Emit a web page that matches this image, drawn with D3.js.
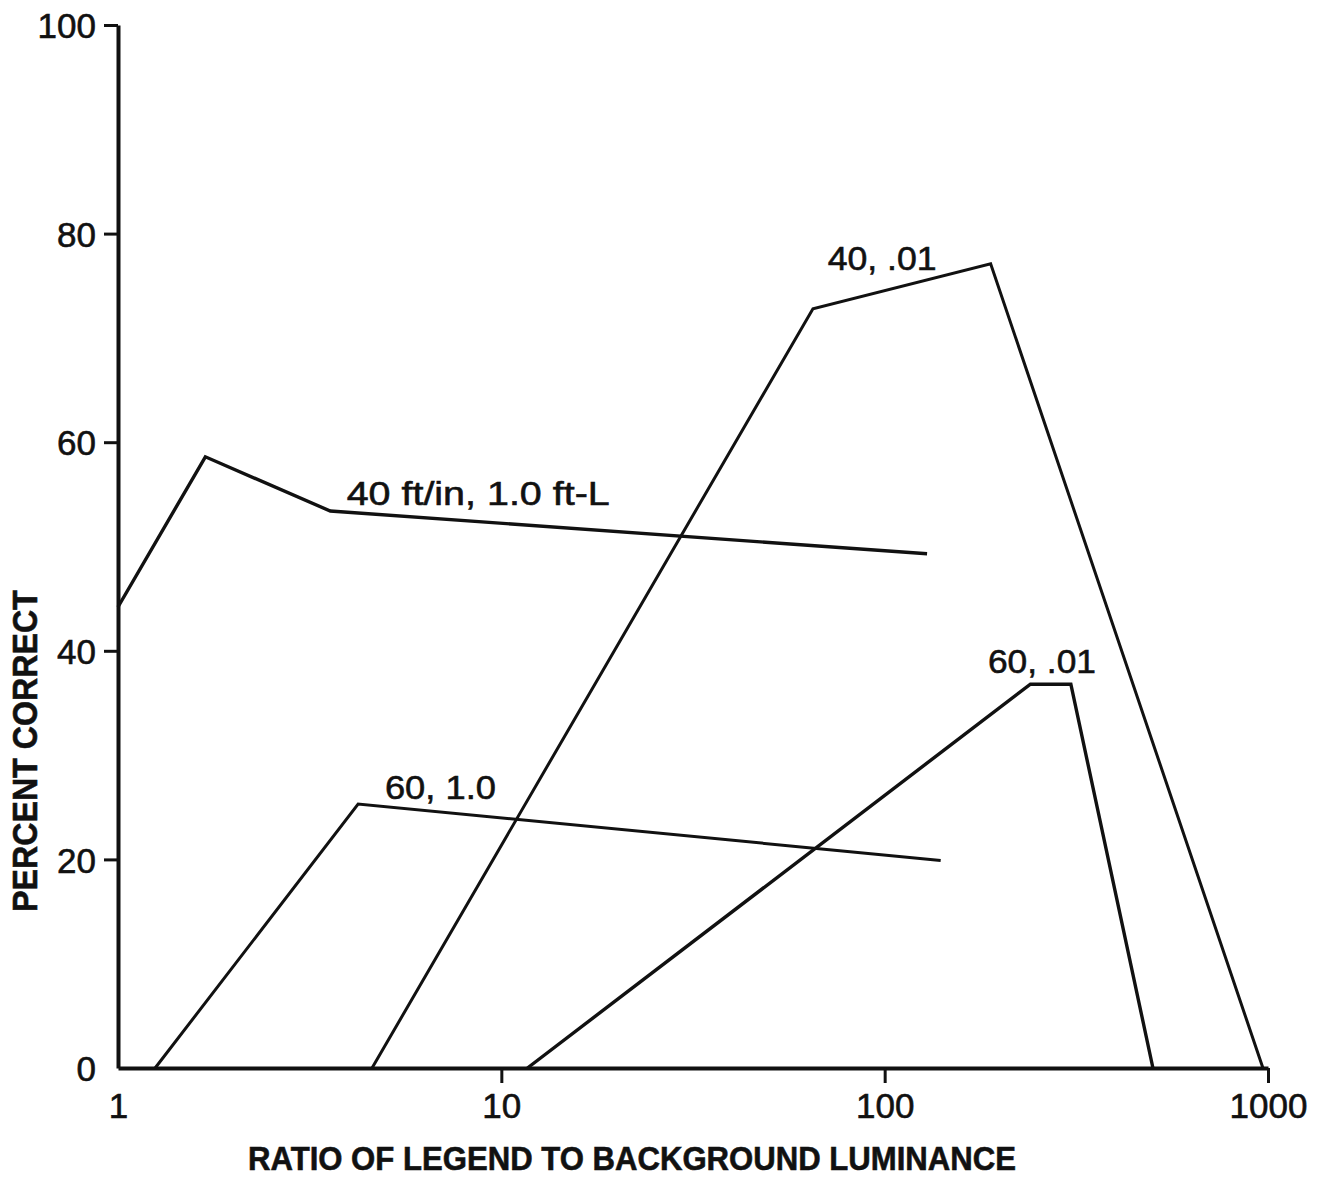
<!DOCTYPE html>
<html>
<head>
<meta charset="utf-8">
<script src="https://cdn.jsdelivr.net/npm/d3@7"></script>
<style>
  body { margin: 0; background: #fff; }
  svg text { font-family: "Liberation Sans", "DejaVu Sans", sans-serif; fill: #111; stroke: #111; stroke-width: 0.6px; }
</style>
</head>
<body>
<svg id="chart" width="1319" height="1181"></svg>
<script>
// values (ratio, percent correct)
const ratio40_10 = [1, 1.69, 3.58, 129]
const pct40_10 = [44.2, 58.6, 53.4, 49.3]

const ratio60_10 = [1.25, 4.23, 140]
const pct60_10 = [0, 25.3, 19.9]

const ratio40_01 = [4.6, 65, 189, 970]
const pct40_01 = [0, 72.8, 77.1, 0]

const ratio60_01 = [11.7, 240, 306, 501]
const pct60_01 = [0, 36.8, 36.8, 0]

const seriesLabels = ['40 ft/in, 1.0 ft-L', '60, 1.0', '40, .01', '60, .01']
const xTicks = [1, 10, 100, 1000]
const xTickLabels = ['1', '10', '100', '1000']
const yTicks = [0, 20, 40, 60, 80, 100]

const svg = d3.select('#chart')

const x = d3.scaleLog()
    .domain([1, 1000])
    .range([118, 1268])

const y = d3.scaleLinear()
    .domain([0, 100])
    .range([1068, 25])

// axes
const yAxis = svg.append('g')
    .attr('transform', 'translate(' + x(1) + ',0)')
    .call(d3.axisLeft(y).tickValues(yTicks).tickSize(14).tickSizeOuter(0).tickPadding(8))
yAxis.select('.domain').attr('stroke-width', 4).attr('stroke', '#111')
yAxis.selectAll('.tick line').attr('stroke-width', 3).attr('stroke', '#111')
yAxis.selectAll('.tick text').style('font-size', '35px').attr('dy', '0.36em')
yAxis.selectAll('.tick').filter(d => d === 0).select('line').remove()

const xAxis = svg.append('g')
    .attr('transform', 'translate(0,' + y(0) + ')')
    .call(d3.axisBottom(x).tickValues(xTicks)
        .tickFormat((d, i) => xTickLabels[i])
        .tickSize(15).tickSizeOuter(0).tickPadding(10))
xAxis.select('.domain').attr('stroke-width', 4).attr('stroke', '#111')
xAxis.selectAll('.tick line').attr('stroke-width', 3).attr('stroke', '#111')
xAxis.selectAll('.tick text').style('font-size', '35px')
xAxis.selectAll('.tick').filter(d => d === 1).select('line').remove()

// axis titles
svg.append('text')
    .attr('x', 632)
    .attr('y', 1170)
    .attr('text-anchor', 'middle')
    .attr('textLength', 768)
    .attr('lengthAdjust', 'spacingAndGlyphs')
    .style('font-size', '34px')
    .style('font-weight', 'bold')
    .text('RATIO OF LEGEND TO BACKGROUND LUMINANCE')

svg.append('text')
    .attr('transform', 'translate(37,751) rotate(-90)')
    .attr('text-anchor', 'middle')
    .attr('textLength', 322)
    .attr('lengthAdjust', 'spacingAndGlyphs')
    .style('font-size', '35px')
    .style('font-weight', 'bold')
    .text('PERCENT CORRECT')

// curves
const line = d3.line()
    .x(d => x(d[0]))
    .y(d => y(d[1]))

function drawCurve(xs, ys, width) {
    svg.append('path')
        .datum(xs.map((v, i) => [v, ys[i]]))
        .attr('d', line)
        .attr('fill', 'none')
        .attr('stroke', '#111')
        .attr('stroke-width', width)
        .attr('stroke-linejoin', 'miter')
}

drawCurve(ratio40_10, pct40_10, 3.4)
drawCurve(ratio60_10, pct60_10, 3)
drawCurve(ratio40_01, pct40_01, 3)
drawCurve(ratio60_01, pct60_01, 3.4)

// curve labels
const labelPos = [
    {v: 3.95, p: 54.0, len: 263},
    {v: 4.97, p: 25.8, len: 111},
    {v: 71, p: 76.5, len: 109},
    {v: 186, p: 37.9, len: 108}
]

seriesLabels.forEach((t, i) => {
    svg.append('text')
        .attr('x', x(labelPos[i].v))
        .attr('y', y(labelPos[i].p))
        .attr('textLength', labelPos[i].len)
        .attr('lengthAdjust', 'spacingAndGlyphs')
        .style('font-size', '34px')
        .text(t)
})
</script>
</body>
</html>
